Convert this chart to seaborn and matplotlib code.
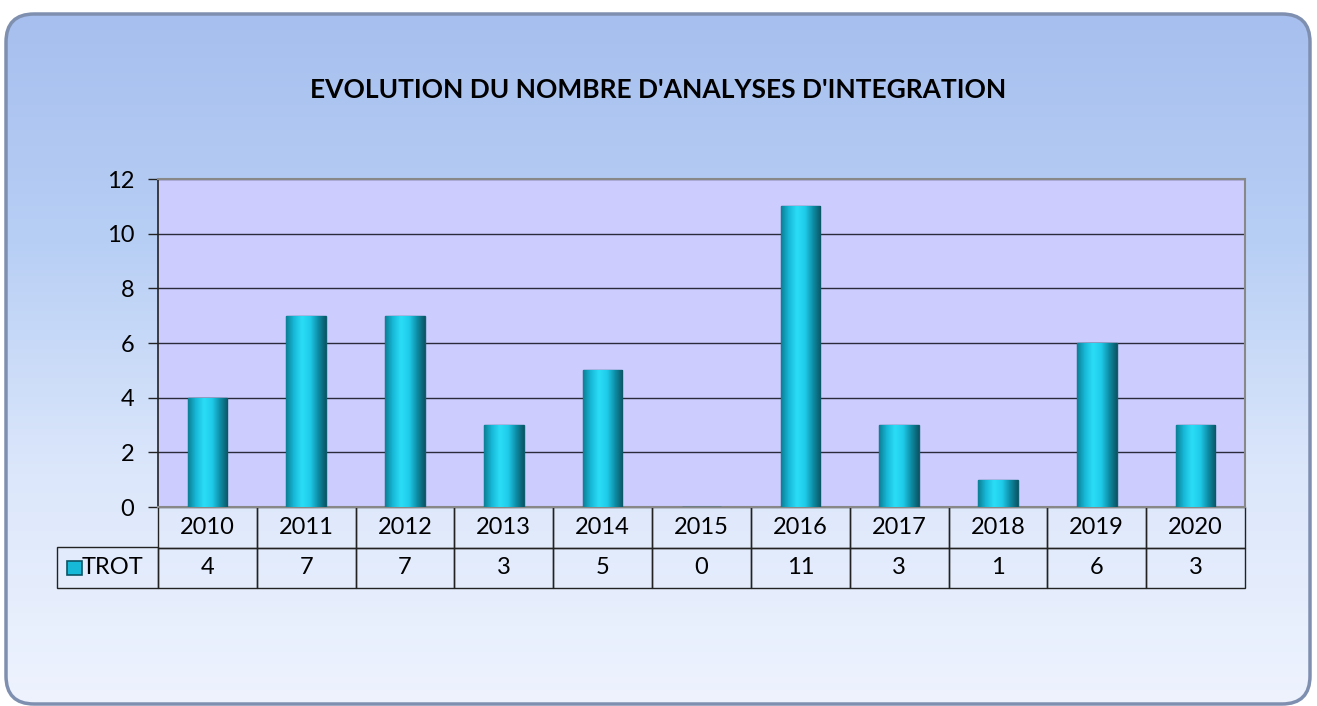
import numpy as np
import pandas as pd
import matplotlib
matplotlib.use("Agg")
import matplotlib.pyplot as plt
import seaborn as sns
from matplotlib.patches import FancyBboxPatch, Rectangle
from matplotlib.colors import LinearSegmentedColormap

# data
years = ["2010", "2011", "2012", "2013", "2014", "2015",
         "2016", "2017", "2018", "2019", "2020"]
trot = [4, 7, 7, 3, 5, 0, 11, 3, 1, 6, 3]
series_name = "TROT"
title = "EVOLUTION DU NOMBRE D'ANALYSES D'INTEGRATION"

df = pd.DataFrame({"year": years, "value": trot})

sns.set_theme(style="white")
plt.rcParams["font.family"] = ["Lato", "DejaVu Sans"]

fig = plt.figure(figsize=(13.17, 7.06), dpi=100)

# rounded gradient background
bg = fig.add_axes([0, 0, 1, 1], zorder=-10)
bg.set_xlim(0, 1317)
bg.set_ylim(706, 0)
bg.axis("off")
bg_cmap = LinearSegmentedColormap.from_list("bg", ["#A6BFEE", "#B8CFF5", "#DCE7FB", "#EEF3FE"])
grad = np.linspace(0, 1, 256).reshape(-1, 1)
box = FancyBboxPatch((6, 14), 1304, 690, boxstyle="round,pad=0,rounding_size=28",
                     facecolor="none", edgecolor="#7F8FAF", linewidth=2.5)
bg.add_patch(box)
img = bg.imshow(grad, cmap=bg_cmap, extent=(6, 1310, 704, 14), aspect="auto")
img.set_clip_path(box)

# plot area
ax = fig.add_axes([158 / 1317, 1 - 507 / 706, 1087 / 1317, 328 / 706])
ax.set_facecolor("#CCCCFF")
sns.barplot(data=df, x="year", y="value", color="#1CCBEA", width=0.4,
            edgecolor="#0D5F70", linewidth=1, ax=ax, zorder=3)

bar_cmap = LinearSegmentedColormap.from_list(
    "bar", ["#0B7F95", "#16B9D8", "#2BDDF6", "#1FCDEB", "#0E8FA8", "#0A5565"])
hgrad = np.linspace(0, 1, 256).reshape(1, -1)
for p in ax.patches:
    x0, y0 = p.get_x(), p.get_y()
    w, h = p.get_width(), p.get_height()
    if h <= 0:
        continue
    im = ax.imshow(hgrad, cmap=bar_cmap, extent=(x0, x0 + w, y0, y0 + h),
                   aspect="auto", zorder=4)
    im.set_clip_path(p)
ax.set_xlim(-0.5, len(years) - 0.5)
ax.set_ylim(0, 12)
ax.set_yticks(range(0, 13, 2))
ax.yaxis.grid(True, color="#2A2A3A", linewidth=1)
ax.set_axisbelow(True)
ax.set_xticks([])
ax.set_xlabel("")
ax.set_ylabel("")
for s in ["top", "right", "bottom"]:
    ax.spines[s].set_color("#888888")
    ax.spines[s].set_linewidth(1.5)
ax.spines["left"].set_color("#222222")
ax.spines["left"].set_linewidth(1.2)
ax.tick_params(axis="y", left=True, length=7, width=1, color="#222222",
               labelsize=17, pad=10, labelcolor="black")

# data table below the axes
tab = ax.table(cellText=[[str(v) for v in trot]], colLabels=years,
               cellLoc="center", bbox=[0, -81 / 328, 1, 81 / 328])
tab.auto_set_font_size(False)
for (r, c), cell in tab.get_celld().items():
    cell.set_facecolor("none")
    cell.set_edgecolor("#222222")
    cell.set_linewidth(1)
    cell.get_text().set_fontsize(17)
    cell.get_text().set_color("black")

lab = ax.table(cellText=[[series_name]], cellLoc="right",
               bbox=[-101 / 1087, -81 / 328, 101 / 1087, 41 / 328])
lab.auto_set_font_size(False)
for (r, c), cell in lab.get_celld().items():
    cell.set_facecolor("none")
    cell.set_edgecolor("#222222")
    cell.set_linewidth(1)
    cell.PAD = 0.14
    cell.get_text().set_fontsize(17)
    cell.get_text().set_color("black")

# legend key in row label cell
bg.add_patch(Rectangle((67, 561), 15, 14, facecolor="#16B9D8", edgecolor="#0A5565", linewidth=1.2))

fig.text(0.5, 1 - 90 / 706, title, ha="center", va="center",
         fontsize=19, fontweight="bold", color="black")

fig.savefig("out.png", dpi=100)
